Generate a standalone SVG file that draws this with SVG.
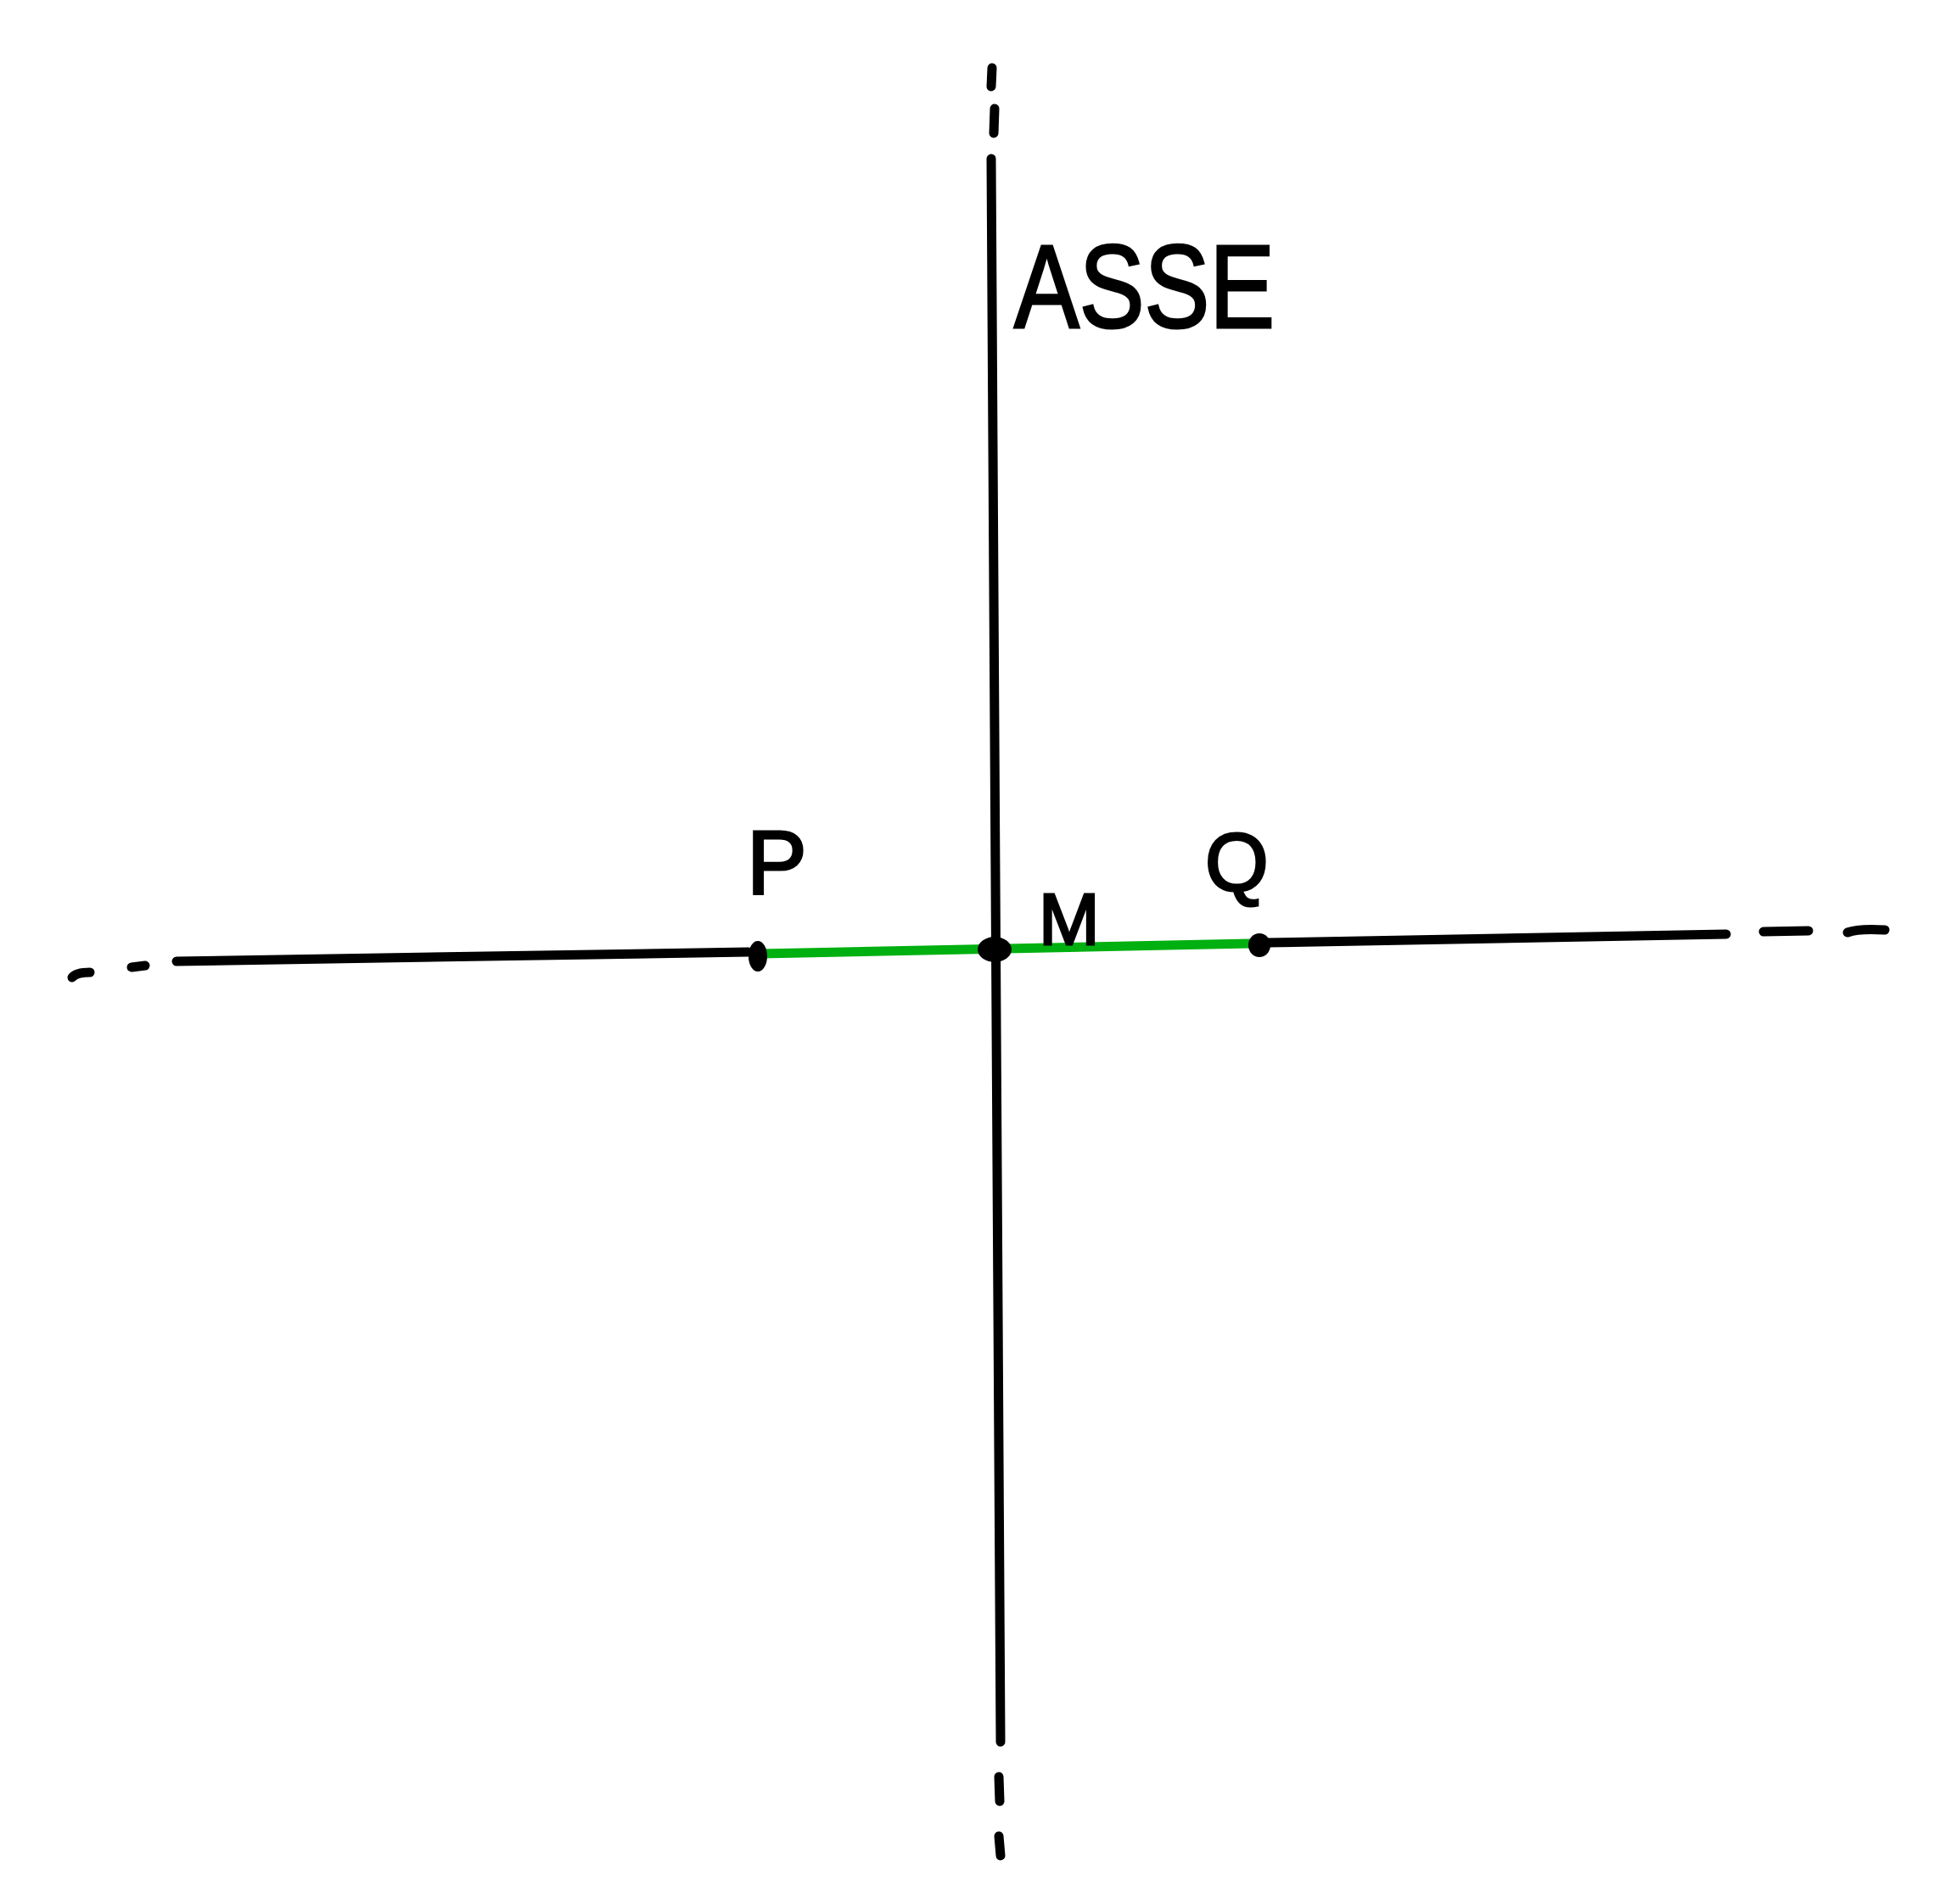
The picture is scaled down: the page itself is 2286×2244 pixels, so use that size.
<svg xmlns="http://www.w3.org/2000/svg" width="2286" height="2244" viewBox="0 0 2286 2244">
<style>
.ln{stroke:#000;stroke-width:11;stroke-linecap:round;fill:none}
.gr{stroke:#00b010;stroke-width:11;stroke-linecap:round;fill:none}
.lbl{font-family:"Liberation Sans","DejaVu Sans",sans-serif;fill:#000;stroke:#000;stroke-width:3}
</style>
<rect width="2286" height="2244" fill="#fff"/>
<g id="connectors">
<g id="axis">
<line class="ln" x1="1169" y1="80" x2="1168" y2="102"/>
<line class="ln" x1="1172" y1="128" x2="1171" y2="157"/>
<line class="ln" x1="1168" y1="187" x2="1179" y2="2053"/>
<line class="ln" x1="1177" y1="2094" x2="1178" y2="2123"/>
<line class="ln" x1="1177" y1="2164" x2="1179" y2="2187"/>
</g>
<g id="line-pq">
<path class="ln" d="M85 1152 Q90 1146 106 1146"/>
<line class="ln" x1="155" y1="1140" x2="171" y2="1138"/>
<line class="ln" x1="208" y1="1133" x2="882" y2="1122"/>
<line class="gr" x1="897" y1="1124" x2="1473" y2="1112"/>
<line class="ln" x1="1494" y1="1111" x2="2034" y2="1101"/>
<line class="ln" x1="2078" y1="1098" x2="2131" y2="1097"/>
<path class="ln" d="M2177 1099 Q2190 1094 2221 1096"/>
</g>
</g>
<g id="point-P">
<ellipse cx="893" cy="1127" rx="11" ry="18" fill="#000"/>
<text class="lbl" x="880" y="1053" font-size="106">P</text>
</g>
<g id="point-M">
<ellipse cx="1172" cy="1119" rx="20" ry="15" fill="#000"/>
<text class="lbl" x="1224" y="1113" font-size="86">M</text>
</g>
<g id="point-Q">
<ellipse cx="1484" cy="1114" rx="13" ry="14" fill="#000"/>
<text class="lbl" x="1420" y="1050" font-size="96">Q</text>
</g>
<g id="label-asse">
<text class="lbl" x="1195" y="386" font-size="140" textLength="307" lengthAdjust="spacingAndGlyphs">ASSE</text>
</g>
</svg>
